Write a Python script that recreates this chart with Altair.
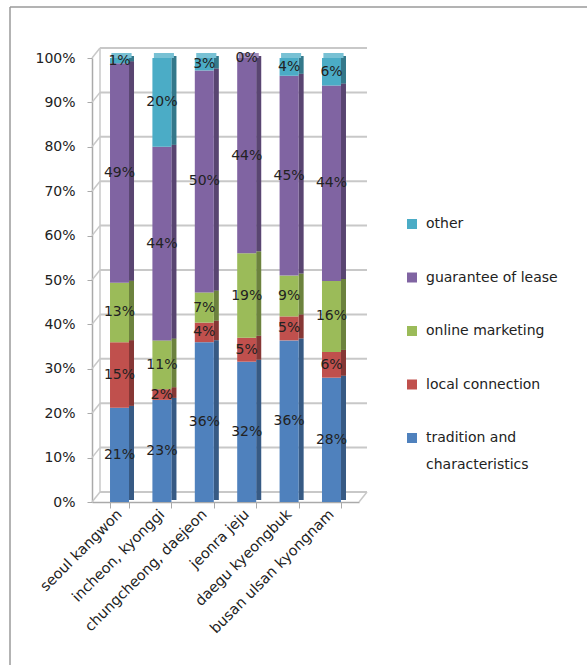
import altair as alt
import pandas as pd

regions = ["seoul kangwon", "incheon, kyonggi", "chungcheong, daejeon",
           "jeonra jeju", "daegu kyeongbuk", "busan ulsan kyongnam"]
series = ["tradition and characteristics", "local connection", "online marketing",
          "guarantee of lease", "other"]
tradition = [21.2, 23.0, 36.0, 31.6, 36.4, 28.0]
local = [14.8, 2.4, 4.4, 5.4, 5.4, 5.8]
online = [13.4, 11.0, 6.8, 19.0, 9.2, 16.0]
guarantee = [49.4, 43.6, 50.0, 44.0, 45.0, 44.0]
other = [1.2, 20.0, 2.8, 0.0, 4.0, 6.2]
colors = ["#4F81BD", "#C0504D", "#9BBB59", "#8064A2", "#4BACC6"]
y_ticks = list(range(0, 101, 10))

rows = []
for i, r in enumerate(regions):
    for k, (s, vals) in enumerate(zip(series, [tradition, local, online, guarantee, other])):
        rows.append({"region": r, "series": s, "value": vals[i], "order": k})
df = pd.DataFrame(rows)

FONT = "DejaVu Sans"
W, H = 267, 444
DX, DY = 8, 10  # depth offset of the back wall

yscale = alt.Scale(domain=[0, 100], nice=False)
xscale = alt.Scale(paddingInner=0.552, paddingOuter=0.425)
legend_order = list(reversed(series))
cscale = alt.Scale(domain=legend_order, range=list(reversed(colors)))

base = alt.Chart(df).transform_stack(
    stack="value", groupby=["region"], sort=[alt.SortField("order")], as_=["y0", "y1"]
).transform_calculate(
    mid="(datum.y0 + datum.y1) / 2",
    label="format(round(datum.value), 'd') + '%'",
)

xenc = alt.X("region:N", sort=regions, scale=xscale,
             axis=alt.Axis(title=None, labelAngle=315, labelFont=FONT, labelFontSize=14.5,
                           labelColor="#222", domainColor="#aaa", domainWidth=1.5,
                           tickColor="#aaa", tickSize=6, tickBand="extent",
                           labelPadding=4))
yenc = alt.Y("y1:Q", scale=yscale,
             axis=alt.Axis(title=None, values=y_ticks, labelExpr="datum.value + '%'",
                           labelFont=FONT, labelFontSize=14, labelColor="#222",
                           domainColor="#aaa", domainWidth=1.5, tickColor="#aaa",
                           tickSize=5, labelPadding=12, grid=False))

# back wall grid
gdf = pd.DataFrame({"v": y_ticks})
grid = alt.Chart(gdf).mark_rule(color="#c8c8c8", strokeWidth=2, yOffset=-DY, y2Offset=-DY).encode(
    y=alt.Y("v:Q", scale=yscale), x=alt.value(DX), x2=alt.value(W + DX))
diag = alt.Chart(gdf).mark_rule(color="#c8c8c8", strokeWidth=1.5, y2Offset=-DY).encode(
    y=alt.Y("v:Q", scale=yscale), y2="v:Q", x=alt.value(0), x2=alt.value(DX))
one = pd.DataFrame({"a": [0]})
wall = alt.Chart(one).mark_rule(color="#c8c8c8", strokeWidth=1.5, yOffset=-DY, y2Offset=-DY).encode(
    x=alt.value(DX), y=alt.datum(0, scale=yscale), y2=alt.datum(100))
floor_r = alt.Chart(one).mark_rule(color="#c8c8c8", strokeWidth=1.5, y2Offset=-DY).encode(
    x=alt.value(W), x2=alt.value(W + DX), y=alt.datum(0, scale=yscale), y2=alt.datum(0))

front = base.mark_bar(size=19).encode(
    x=xenc, y=yenc, y2="y0:Q",
    color=alt.Color("series:N", scale=cscale,
                    legend=alt.Legend(title=None, orient="none", legendX=313, legendY=159,
                                      symbolType="square", symbolSize=100, symbolStrokeWidth=0,
                                      labelFont=FONT, labelFontSize=14, labelColor="#222",
                                      rowPadding=39.5, labelOffset=7, labelLimit=300,
                                      labelExpr="datum.label == 'tradition and characteristics' ? ['tradition and', 'characteristics'] : datum.label")))
side = base.mark_bar(size=5, xOffset=12, yOffset=-2, y2Offset=-2).encode(
    x=alt.X("region:N", sort=regions, scale=xscale), y=alt.Y("y1:Q", scale=yscale), y2="y0:Q",
    color=alt.Color("series:N", scale=cscale))
side_dark = base.mark_bar(size=5, xOffset=12, yOffset=-2, y2Offset=-2, color="black", opacity=0.3).encode(
    x=alt.X("region:N", sort=regions, scale=xscale), y=alt.Y("y1:Q", scale=yscale), y2="y0:Q")
capbase = base.transform_filter("datum.y1 >= 99.9 && datum.value > 0")
cap = capbase.mark_bar(size=20, xOffset=2, yOffset=-5, y2Offset=0).encode(
    x=alt.X("region:N", sort=regions, scale=xscale), y=alt.Y("y1:Q", scale=yscale), y2="y1:Q",
    color=alt.Color("series:N", scale=cscale))
cap_light = capbase.mark_bar(size=20, xOffset=2, yOffset=-5, y2Offset=0, color="white", opacity=0.25).encode(
    x=alt.X("region:N", sort=regions, scale=xscale), y=alt.Y("y1:Q", scale=yscale), y2="y1:Q")
labels = base.mark_text(font=FONT, fontSize=14, color="#222").encode(
    x=alt.X("region:N", sort=regions, scale=xscale), y=alt.Y("mid:Q", scale=yscale), text="label:N")

# chart-area frame (only the left and top edges fall inside the picture)
frame_left = alt.Chart(one).mark_rule(color="#9a9a9a", strokeWidth=1.5).encode(
    x=alt.value(-82), y=alt.value(-51), y2=alt.value(700))
frame_top = alt.Chart(one).mark_rule(color="#9a9a9a", strokeWidth=1.5).encode(
    x=alt.value(-82), x2=alt.value(600), y=alt.value(-51))

chart = alt.layer(frame_left, frame_top, grid, diag, wall, floor_r, side, side_dark, cap, cap_light,
                  front, labels).properties(
    width=W, height=H,
    padding={"left": 92, "top": 58, "right": 587 - 92 - W, "bottom": 665 - 58 - H},
    autosize=alt.AutoSizeParams(type="none"),
    background="white",
).configure(
    style={"guide-label": {"lineHeight": 27}},
    view=alt.ViewConfig(strokeWidth=0),
)

chart.save("out.html", embed_options={"renderer": "svg", "actions": False})
